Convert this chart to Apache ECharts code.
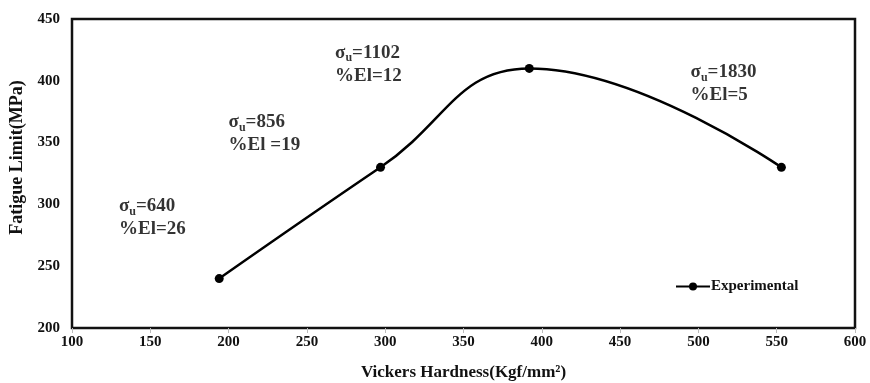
<!DOCTYPE html>
<html>
<head>
<meta charset="utf-8">
<script src="https://cdn.jsdelivr.net/npm/echarts@6/dist/echarts.min.js"></script>
<style>
  html, body { margin: 0; padding: 0; background: #fff; }
  #chart { width: 870px; height: 383px; }
</style>
</head>
<body>
<div id="chart"></div>
<script>
// measured points
const hardness = [194, 297, 392, 553]
const fatigue = [240, 330, 410, 330]

// annotations: ultimate strength and elongation, anchored at top-left of each text block
const uts = ['640', '856', '1102', '1830']
const elong = ['%El=26', '%El =19', '%El=12', '%El=5']
const noteX = [130, 200, 268, 495]
const noteY = [308, 376, 432, 416]

const serif = '"Liberation Serif", "Times New Roman", serif'

const chart = echarts.init(document.getElementById('chart'))

const notes = noteX.map((x, i) => ({
  value: [x, noteY[i]],
  label: {
    formatter: '{s|σ}{sub|u}{s|=' + uts[i] + '}\n{s|' + elong[i] + '}'
  }
}))

const options = {
  animation: false,
  grid: {
    left: 72,
    right: 15,
    top: 19,
    bottom: 55,
    outerBoundsMode: 'none',
    show: true,
    borderColor: '#111',
    borderWidth: 2.5,
    backgroundColor: '#fff'
  },
  xAxis: {
    type: 'value',
    min: 100,
    max: 600,
    interval: 50,
    name: 'Vickers Hardness(Kgf/mm²)',
    nameLocation: 'middle',
    nameGap: 36,
    nameTextStyle: { fontFamily: serif, fontWeight: 'bold', fontSize: 17, color: '#111' },
    axisLine: { show: false },
    axisTick: { show: true, length: 5, lineStyle: { color: '#bbb' } },
    axisLabel: { fontFamily: serif, fontWeight: 'bold', fontSize: 15, color: '#111', margin: 7 },
    splitLine: { show: false }
  },
  yAxis: {
    type: 'value',
    min: 200,
    max: 450,
    interval: 50,
    name: 'Fatigue Limit(MPa)',
    nameLocation: 'middle',
    nameGap: 46,
    nameTextStyle: { fontFamily: serif, fontWeight: 'bold', fontSize: 18, color: '#111', padding: [0, 0, 0, 32] },
    axisLine: { show: false },
    axisTick: { show: false },
    axisLabel: { fontFamily: serif, fontWeight: 'bold', fontSize: 15, color: '#111', margin: 12 },
    splitLine: { show: false }
  },
  legend: {
    left: 670,
    top: 274,
    itemWidth: 34,
    itemHeight: 10,
    itemGap: 4,
    data: ['Experimental'],
    textStyle: { fontFamily: serif, fontWeight: 'bold', fontSize: 15, color: '#111', padding: [0, 0, 0, -4] }
  },
  series: [{
    name: 'Experimental',
    type: 'line',
    data: hardness.map((x, i) => [x, fatigue[i]]),
    smooth: 0.45,
    symbol: 'circle',
    symbolSize: 9,
    itemStyle: { color: '#000' },
    lineStyle: { color: '#000', width: 2.5 }
  },
  {
    type: 'scatter',
    data: notes,
    symbolSize: 0,
    silent: true,
    label: {
      show: true,
      position: [0, 0],
      align: 'left',
      verticalAlign: 'top',
      lineHeight: 23,
      rich: {
        s: { fontFamily: serif, fontWeight: 'bold', fontSize: 19, color: '#000', lineHeight: 23 },
        sub: { fontFamily: serif, fontWeight: 'bold', fontSize: 12, color: '#000', verticalAlign: 'bottom', padding: [7, 0, 0, 0], lineHeight: 23 }
      }
    }
  }]
}

options && chart.setOption(options)
</script>
</body>
</html>
